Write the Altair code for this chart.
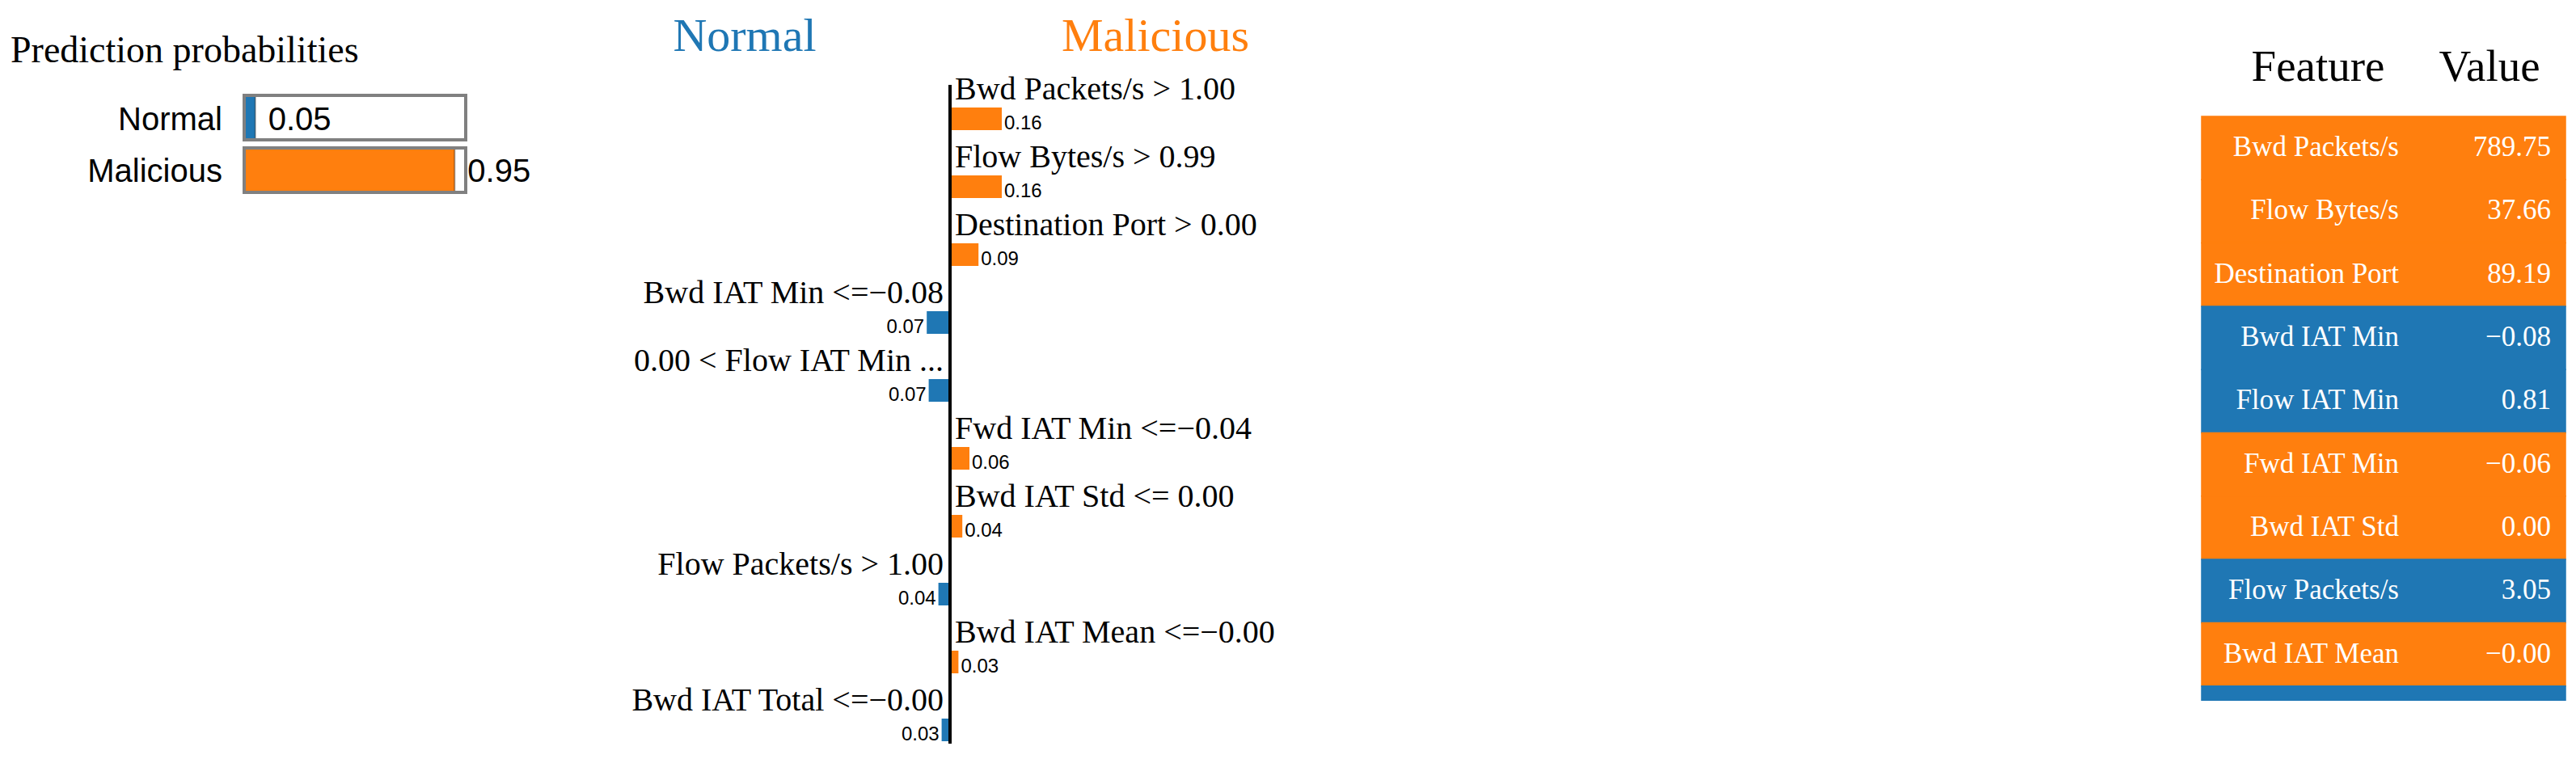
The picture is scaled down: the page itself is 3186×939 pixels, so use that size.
import altair as alt
import pandas as pd

# ---------------- data ----------------
classes = ["Normal", "Malicious"]
probs = [0.05, 0.95]
class_colors = ["#1f77b4", "#ff7f0e"]

rules = [
    "Bwd Packets/s > 1.00",
    "Flow Bytes/s > 0.99",
    "Destination Port > 0.00",
    "Bwd IAT Min <=\u22120.08",
    "0.00 < Flow IAT Min ...",
    "Fwd IAT Min <=\u22120.04",
    "Bwd IAT Std <= 0.00",
    "Flow Packets/s > 1.00",
    "Bwd IAT Mean <=\u22120.00",
    "Bwd IAT Total <=\u22120.00",
]
weights = [0.16, 0.16, 0.088, -0.072, -0.066, 0.06, 0.038, -0.036, 0.026, -0.026]

features = [
    "Bwd Packets/s", "Flow Bytes/s", "Destination Port", "Bwd IAT Min",
    "Flow IAT Min", "Fwd IAT Min", "Bwd IAT Std", "Flow Packets/s",
    "Bwd IAT Mean", "Bwd IAT Total",
]
feature_values = ["789.75", "37.66", "89.19", "\u22120.08", "0.81",
                  "\u22120.06", "0.00", "3.05", "\u22120.00", "\u22120.00"]

SERIF = "Liberation Serif"
SANS = "Liberation Sans"

# ---------------- panel 1: prediction probabilities ----------------
prob_df = pd.DataFrame({"cls": classes, "prob": probs,
                        "zero": [0.0] * len(classes), "one": [1.0] * len(classes)})
xs1 = alt.Scale(domain=[0, 1], range=[294, 568], nice=False, zero=False)
ys1 = alt.Scale(domain=classes, range=[110, 230], paddingInner=0.1538, paddingOuter=0)
col1 = alt.Scale(domain=classes, range=class_colors)

b1 = alt.Chart(prob_df)
fillbar = b1.mark_bar(stroke="black", strokeOpacity=0.35, strokeWidth=2).encode(
    x=alt.X("zero:Q", scale=xs1, axis=None), x2="prob:Q",
    y=alt.Y("cls:N", scale=ys1, axis=None),
    color=alt.Color("cls:N", scale=col1, legend=None),
)
box = b1.mark_bar(filled=False, stroke="#808080", strokeWidth=4).encode(
    x=alt.X("zero:Q", scale=xs1, axis=None), x2="one:Q",
    y=alt.Y("cls:N", scale=ys1, axis=None),
)
clslab = b1.mark_text(align="right", baseline="alphabetic", dy=15, font=SANS,
                      fontSize=40, color="black").encode(
    x=alt.value(267), y=alt.Y("cls:N", scale=ys1, axis=None), text="cls:N")
probtxt = b1.mark_text(align="left", baseline="alphabetic", dx=16, dy=15, font=SANS,
                       fontSize=40, color="black").encode(
    x=alt.X("prob:Q", scale=xs1, axis=None), y=alt.Y("cls:N", scale=ys1, axis=None),
    text=alt.Text("prob:Q", format=".2f"))
title1 = alt.Chart(pd.DataFrame({"t": ["Prediction probabilities"]})).mark_text(
    align="left", baseline="alphabetic", font=SERIF, fontSize=46, color="black").encode(
    x=alt.value(5), y=alt.value(69), text="t:N")

p1 = alt.layer(fillbar, box, clslab, probtxt, title1).properties(width=680, height=240)

# ---------------- panel 2: explanation bars ----------------
exp_df = pd.DataFrame({"rule": rules, "w": weights})
exp_df["aw"] = exp_df["w"].abs()
exp_df["zero"] = 0.0
exp_df["side"] = ["Malicious" if v > 0 else "Normal" for v in weights]

xs2 = alt.Scale(domain=[-1, 1], range=[87, 887], nice=False, zero=False)
ys2 = alt.Scale(domain=rules, range=[125, 909], paddingInner=2 / 3, paddingOuter=0)
col2 = alt.Scale(domain=classes, range=class_colors)

b2 = alt.Chart(exp_df)
Y2 = alt.Y("rule:N", scale=ys2, axis=None)
bars = b2.mark_bar().encode(
    x=alt.X("zero:Q", scale=xs2, axis=None), x2="w:Q", y=Y2,
    color=alt.Color("side:N", scale=col2, legend=None))
poslab = b2.transform_filter("datum.w > 0").mark_text(
    align="left", baseline="alphabetic", dx=6, dy=-24, font=SERIF, fontSize=40,
    color="black").encode(x=alt.X("zero:Q", scale=xs2, axis=None), y=Y2, text="rule:N")
neglab = b2.transform_filter("datum.w < 0").mark_text(
    align="right", baseline="alphabetic", dx=-8, dy=-24, font=SERIF, fontSize=40,
    color="black").encode(x=alt.X("zero:Q", scale=xs2, axis=None), y=Y2, text="rule:N")
posval = b2.transform_filter("datum.w > 0").mark_text(
    align="left", baseline="alphabetic", dx=3, dy=13, font=SANS, fontSize=24,
    color="black").encode(x=alt.X("w:Q", scale=xs2, axis=None), y=Y2,
                          text=alt.Text("aw:Q", format=".2f"))
negval = b2.transform_filter("datum.w < 0").mark_text(
    align="right", baseline="alphabetic", dx=-3, dy=13, font=SANS, fontSize=24,
    color="black").encode(x=alt.X("w:Q", scale=xs2, axis=None), y=Y2,
                          text=alt.Text("aw:Q", format=".2f"))
axisline = alt.Chart(pd.DataFrame({"zero": [0.0]})).mark_rule(
    color="black", strokeWidth=4).encode(
    x=alt.X("zero:Q", scale=xs2, axis=None), y=alt.value(97), y2=alt.value(912))
hdr_n = alt.Chart(pd.DataFrame({"t": [classes[0]]})).mark_text(
    align="center", baseline="alphabetic", font=SERIF, fontSize=58,
    color=class_colors[0]).encode(x=alt.value(233), y=alt.value(55), text="t:N")
hdr_m = alt.Chart(pd.DataFrame({"t": [classes[1]]})).mark_text(
    align="center", baseline="alphabetic", font=SERIF, fontSize=58,
    color=class_colors[1]).encode(x=alt.value(741), y=alt.value(55), text="t:N")

p2 = alt.layer(bars, axisline, poslab, neglab, posval, negval, hdr_n, hdr_m).properties(
    width=940, height=920)

# ---------------- panel 3: feature / value table ----------------
tab_df = pd.DataFrame({"feature": features, "val": feature_values})
tab_df["row"] = range(len(features))
tab_df["row2"] = tab_df["row"] + 1
tab_df["mid"] = tab_df["row"] + 0.5
tab_df["zero"] = 0.0
tab_df["one"] = 1.0
tab_df["side"] = ["Malicious" if v > 0 else "Normal" for v in weights]

xs3 = alt.Scale(domain=[0, 1], range=[1095, 1545], nice=False, zero=False)
ys3 = alt.Scale(domain=[0, 9.234], range=[136, 859], nice=False, zero=False)

b3 = alt.Chart(tab_df)
cells = b3.mark_rect(clip=True, strokeWidth=1.5).encode(
    x=alt.X("zero:Q", scale=xs3, axis=None), x2="one:Q",
    y=alt.Y("row:Q", scale=ys3, axis=None), y2="row2:Q",
    color=alt.Color("side:N", scale=col2, legend=None),
    stroke=alt.Stroke("side:N", scale=col2, legend=None))
ftxt = b3.mark_text(align="right", baseline="alphabetic", dy=10, font=SERIF,
                    fontSize=35, color="white", clip=True).encode(
    x=alt.value(1339), y=alt.Y("mid:Q", scale=ys3, axis=None), text="feature:N")
vtxt = b3.mark_text(align="right", baseline="alphabetic", dy=10, font=SERIF,
                    fontSize=35, color="white", clip=True).encode(
    x=alt.value(1527), y=alt.Y("mid:Q", scale=ys3, axis=None), text="val:N")
h_feat = alt.Chart(pd.DataFrame({"t": ["Feature"]})).mark_text(
    align="center", baseline="alphabetic", font=SERIF, fontSize=55, color="black").encode(
    x=alt.value(1239), y=alt.value(92), text="t:N")
h_val = alt.Chart(pd.DataFrame({"t": ["Value"]})).mark_text(
    align="center", baseline="alphabetic", font=SERIF, fontSize=55, color="black").encode(
    x=alt.value(1451), y=alt.value(92), text="t:N")

p3 = alt.layer(cells, ftxt, vtxt, h_feat, h_val).properties(width=1550, height=859)

chart = alt.hconcat(p1, p2, p3, spacing=0, bounds="flush").properties(
    padding=0).configure_view(stroke=None).resolve_scale(color="independent")

chart.save("out.html", embed_options={"renderer": "svg", "actions": False})
